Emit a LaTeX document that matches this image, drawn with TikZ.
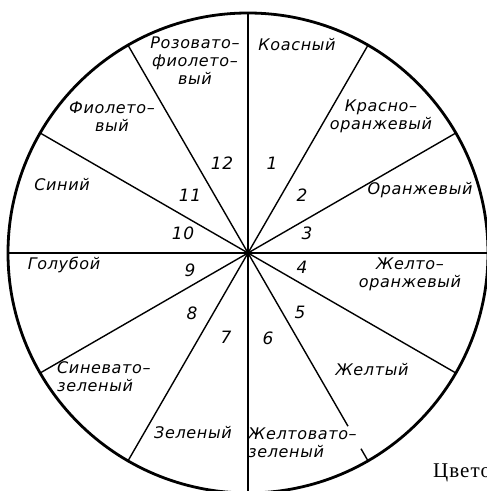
\documentclass[tikz,border=0pt]{standalone}
\usepackage{fontspec}
\setmainfont{DejaVu Sans}
\newfontfamily\lblfont{DejaVu Sans}[LetterSpace=4]
\newfontfamily\capfont{Liberation Serif}[LetterSpace=5]
\usetikzlibrary{calc}
\begin{document}
\begin{tikzpicture}[x=1pt,y=1pt,
  rim/.style={line width=2.8pt},
  spoke/.style={line width=1.4pt},
  lbl/.style={font=\lblfont\itshape\fontsize{16}{18}\selectfont, inner sep=0pt, align=center},
  num/.style={font=\lblfont\itshape\fontsize{17}{18}\selectfont, inner sep=0pt}]
\useasboundingbox (0,0) rectangle (487,491);
\clip (0,0) rectangle (487,491);
\coordinate (O) at (248,238);
\def\R{240}
% spokes
\foreach \a in {0,30,60,90,120,150,180,210,240,270,330}
  \draw[spoke] (O) -- ($(O)+(\a:\R)$);
\draw[spoke] (O) -- ($(O)+(300:200)$);
\draw[spoke] ($(O)+(300:226)$) -- ($(O)+(300:\R)$);
\draw[rim] (O) circle (\R);
% colour names
\node[lbl] (l12) at (195,430) {Розовато–\\фиолето–\\вый};
\node[lbl] (l1) at (297,446) {Коасный};
\node[lbl] (l2) at (381,375) {Красно–\\оранжевый};
\node[lbl] (l3) at (420,301) {Оранжевый};
\node[lbl] (l4) at (410,217) {Желто–\\оранжевый};
\node[lbl] (l5) at (372,121) {Желтый};
\node[lbl, anchor=west, align=left] (l6) at (248,48.5) {Желтовато–\\зеленый};
\node[lbl] (l7) at (193,58) {Зеленый};
\node[lbl, anchor=west, align=left] (l8) at (57,114.5) {Синевато–\\зеленый};
\node[lbl] (l9) at (64,226) {Голубой};
\node[lbl] (l10) at (62,306) {Синий};
\node[lbl] (l11) at (112,374.5) {Фиолето–\\вый};
% numbers
\node[num] (n1) at (272,328) {1};
\node[num] (n2) at (302,296) {2};
\node[num] (n3) at (307,258) {3};
\node[num] (n4) at (302,224) {4};
\node[num] (n5) at (300,179) {5};
\node[num] (n6) at (268,153) {6};
\node[num] (n7) at (226,154) {7};
\node[num] (n8) at (192,178) {8};
\node[num] (n9) at (190,221) {9};
\node[num] (n10) at (183,258) {10};
\node[num] (n11) at (190,296) {11};
\node[num] (n12) at (222,328) {12};
% caption (cut off at the edge, as in the reference)
\node[font=\capfont\fontsize{21}{24}\selectfont, anchor=base west, inner sep=0pt] (cap) at (433,13) {Цвето};
\end{tikzpicture}
\end{document}
